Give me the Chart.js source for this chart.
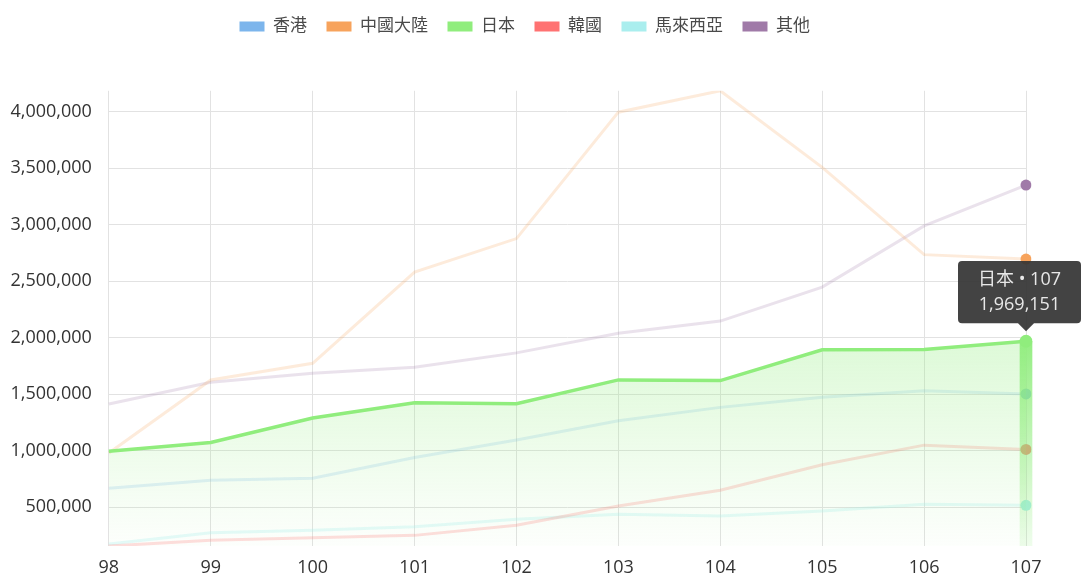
<!DOCTYPE html>
<html><head><meta charset="utf-8">
<script src="https://cdn.jsdelivr.net/npm/chart.js@4.4.1/dist/chart.umd.min.js"></script>
<style>html,body{margin:0;padding:0;background:#fff}#wrap{width:1081px;height:576px;position:relative}</style>
</head><body><div id="wrap"><canvas id="c"></canvas></div>
<script>
const years = ['98','99','100','101','102','103','104','105','106','107'];
const seriesNames = ['香港','中國大陸','日本','韓國','馬來西亞','其他'];
const hongKong = [669000,740000,758000,941000,1095000,1266000,1384000,1473000,1532000,1503000];
const mainland = [980000,1627000,1774000,2581000,2877000,3995000,4184000,3507000,2735000,2696000];
const japan    = [995000,1074000,1290000,1425000,1417000,1627000,1621000,1893000,1895000,1969151];
const korea    = [158000,208000,231000,252000,341000,512000,651000,876000,1050000,1012000];
const malaysia = [175000,276000,297000,329000,394000,439000,424000,468000,527000,518000];
const others   = [1414000,1606000,1686000,1739000,1866000,2040000,2147000,2448000,2989000,3350000];
const yTickValues = [500000,1000000,1500000,2000000,2500000,3000000,3500000,4000000];
const fullColors  = ['#7cb5ec','#f7a35c','#90ed7d','#ff7272','#aaeeee','#a07aa8'];
const fadedColors = ['rgba(124,181,236,0.22)','rgba(247,163,92,0.22)','#90ed7d','rgba(255,114,114,0.24)','rgba(170,238,238,0.3)','rgba(160,122,168,0.22)'];
const highlightIndex = 9;
const highlightSeries = 2;

Chart.defaults.font.family = "'Open Sans','Noto Sans CJK TC',sans-serif";
Chart.defaults.color = '#444';

const allSeries = [hongKong, mainland, japan, korea, malaysia, others];
const yMin = Math.min(...allSeries.flat());
const yMax = Math.max(...allSeries.flat());

function japanFill(ctx){
  const chart = ctx.chart; const a = chart.chartArea;
  if(!a) return 'rgba(144,237,125,0.2)';
  const top = chart.scales.y.getPixelForValue(Math.max(...japan));
  const g = chart.ctx.createLinearGradient(0, top, 0, a.bottom);
  g.addColorStop(0,'rgba(144,237,125,0.3)');
  g.addColorStop(1,'rgba(144,237,125,0.02)');
  return g;
}
function barFill(ctx){
  const chart = ctx.chart; const a = chart.chartArea;
  if(!a) return 'rgba(144,237,125,0.6)';
  const top = chart.scales.y.getPixelForValue(japan[highlightIndex]);
  const g = chart.ctx.createLinearGradient(0, top, 0, a.bottom);
  g.addColorStop(0,'rgba(144,237,125,0.95)');
  g.addColorStop(1,'rgba(144,237,125,0.15)');
  return g;
}

const datasets = allSeries.map((arr, i) => ({
  type: 'line',
  label: seriesNames[i],
  data: arr,
  borderColor: fadedColors[i],
  backgroundColor: i === highlightSeries ? japanFill : fullColors[i],
  fill: i === highlightSeries ? 'start' : false,
  borderWidth: i === highlightSeries ? 3.5 : 3,
  tension: 0,
  pointRadius: c => c.dataIndex === highlightIndex ? (i === highlightSeries ? 6.5 : 5.5) : 0,
  pointBackgroundColor: fullColors[i],
  pointBorderWidth: 0,
  order: i === highlightSeries ? 0 : i + 1
}));
datasets.push({
  type: 'bar',
  label: '_hl',
  data: japan.map((v, i) => i === highlightIndex ? v : null),
  backgroundColor: barFill,
  barThickness: 12,
  clip: {left: 20, right: 20, top: 20, bottom: 0},
  order: -1
});

const legendSpace = {
  id: 'legendSpace',
  beforeInit(chart){
    const fit = chart.legend.fit;
    chart.legend.fit = function(){ fit.bind(chart.legend)(); this.height += 45.8; };
  },
  afterLayout(chart){
    chart.legend.left += 15; chart.legend.right += 15;
  }
};

const chart = new Chart(document.getElementById('c'), {
  data: { labels: years, datasets },
  plugins: [legendSpace],
  options: {
    responsive: true, maintainAspectRatio: false, animation: false, events: [],
    layout: { padding: { left: -6.5, right: 55, top: -1.5, bottom: -14 } },
    plugins: {
      legend: {
        position: 'top',
        labels: {
          boxWidth: 25, boxHeight: 10, padding: 19.5, color: '#4a4a4a',
          font: { size: 17 },
          filter: item => item.text !== '_hl',
          sort: (a, b) => a.datasetIndex - b.datasetIndex,
          generateLabels: ch => Chart.defaults.plugins.legend.labels.generateLabels(ch).map(l => {
            if (l.datasetIndex < fullColors.length) { l.fillStyle = fullColors[l.datasetIndex]; l.strokeStyle = fullColors[l.datasetIndex]; }
            l.lineWidth = 0; return l;
          })
        }
      },
      tooltip: {
        enabled: true, xAlign: 'center', yAlign: 'bottom',
        backgroundColor: 'rgba(51,51,51,0.92)',
        titleColor: '#e8e8e8', bodyColor: '#e8e8e8',
        titleFont: { size: 18, weight: 'normal' }, bodyFont: { size: 18 },
        titleAlign: 'center', bodyAlign: 'center', displayColors: false,
        padding: { top: 8, bottom: 8, left: 20, right: 20 },
        caretSize: 8, caretPadding: 10, cornerRadius: 4, titleMarginBottom: 3,
        filter: it => it.datasetIndex === highlightSeries,
        callbacks: {
          title: items => `${items[0].dataset.label} • ${items[0].label}`,
          label: it => it.parsed.y.toLocaleString('en-US')
        }
      }
    },
    scales: {
      x: {
        offset: false,
        grid: { color: '#e2e2e2', drawTicks: false, offset: false },
        border: { display: false },
        ticks: { padding: 13, font: { size: 18, lineHeight: 1 }, color: '#333' }
      },
      y: {
        min: yMin, max: yMax,
        afterBuildTicks: s => { s.ticks = yTickValues.map(v => ({ value: v })); },
        grid: { color: '#e2e2e2', drawTicks: false },
        border: { display: false },
        ticks: { padding: 17, font: { size: 18 }, color: '#333',
          callback: v => v.toLocaleString('en-US') }
      }
    }
  }
});
chart.tooltip.setActiveElements([{ datasetIndex: highlightSeries, index: highlightIndex }], { x: 0, y: 0 });
chart.update();
</script>
</body></html>
